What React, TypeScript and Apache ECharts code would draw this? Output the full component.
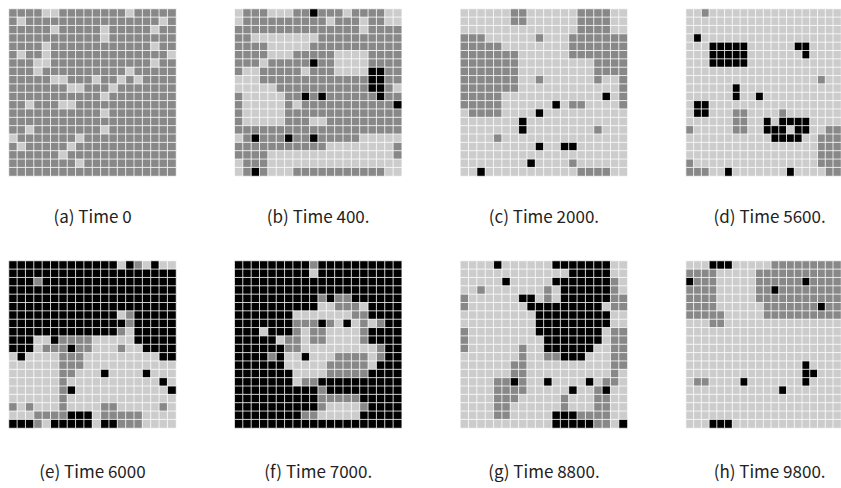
import React, { useEffect, useRef } from "react";
import * as echarts from "echarts";

// '.' = light, 'g' = gray, '#' = black ; rows from top, cols from left
const gridA = [
  "gggg..gggggggg.ggggg",
  "g.gggggggggggggggg.g",
  "ggggg.ggggg.ggggg.gg",
  "ggggggggggg.gggggggg",
  "gggg.gggggggggggg.gg",
  "g.gg.gggggggggggggg.",
  "ggg..gggggggggggg.gg",
  "ggg.gggggggggg.ggggg",
  "ggggg..ggg.gg.g.gggg",
  "ggggggg..ggg.ggggggg",
  "ggggggggggg.gggggggg",
  "gg.ggg..gggggggggggg",
  "ggggggggggg.gggggggg",
  "gggggggggggggggggggg",
  "gg.gggggggg.gggggggg",
  ".ggggggg.ggggggggggg",
  "g.ggggg.gggggggggggg",
  "gggggg.ggggggggggggg",
  "gggggggg.ggggggggggg",
  "gggggggggggggggggggg",
];
const gridB = [
  ".ggg...gg#ggg.gggg..",
  ".gggggggggg.ggg.gg..",
  "ggggggggggggggg.gggg",
  "gg........gggggggggg",
  "gggg.....ggggggggggg",
  "gggg...ggggg....gggg",
  "ggg.ggggg#gg....gggg",
  "g..ggggg.ggg....##gg",
  "...ggggggggggggg##gg",
  ".....ggggggggggg##g.",
  "g.....gg#g#gggggg#gg",
  "g.....g.ggggggggggg#",
  "g.....gggggggggggggg",
  "g.....ggg..ggggggggg",
  "gggggggggggggggggggg",
  ".g#ggg#gg#ggggg.....",
  "ggggggggggg........g",
  "gggg...............g",
  ".ggg................",
  ".g#g...ggggggggggg..",
];
const gridC = [
  "......gg......gggg..",
  "......gg......gggg..",
  "..............gggg..",
  "ggg......g...ggggggg",
  "ggggg........ggggggg",
  "ggggggg......ggggggg",
  "ggggggg.........gggg",
  "ggggggg.........gggg",
  "ggggggg..g......g..g",
  "ggggggg............g",
  "ggggg............#.g",
  "ggggg......#.gg....g",
  ".gggg....#..........",
  ".......#............",
  ".......#........g...",
  "....g...............",
  ".........#..##......",
  "....................",
  "........#....g......",
  "..#...........gggg..",
];
const gridD = [
  "..g.................",
  "....................",
  "....................",
  ".#..................",
  "...#####......##....",
  "...#####.......#....",
  "...#####............",
  "....................",
  ".................g..",
  "......#.............",
  "......#..#..........",
  ".##.................",
  ".##...gg....g.......",
  "......gg..#.####....",
  "g.....gg..###.##..gg",
  "...........####..ggg",
  ".................ggg",
  ".................ggg",
  "g................ggg",
  "ggg..#.......#....gg",
];
const gridE = [
  "#############.#g.#..",
  "####################",
  "###g################",
  "####################",
  "####################",
  "####################",
  "#############.g#####",
  "##############g#####",
  "#############g.#####",
  "###..#gggg.....#####",
  "###.ggg#gg...g..####",
  ".#....ggg.........##",
  "......ggg...........",
  "......gg...#....#...",
  "......g...........#.",
  "......g#...........#",
  "......g.............",
  "g.g...g....gg.....g.",
  "...gggg###.ggggg....",
  "###g.#####.##ggg....",
];
const gridF = [
  "#########g##########",
  "#########.##########",
  "####################",
  "####################",
  "##########g#gg######",
  "##########..ggg.####",
  "#######.......gg####",
  "#######ggg#g.#.g.g##",
  "###.###g.gg....g####",
  "#####.gg.gg....g####",
  "######gg.........g##",
  "####g#..#...gggg.g##",
  "######.....ggggg.###",
  "#######....ggggg####",
  "#######.gg##########",
  "##########g#########",
  "##########ggggg#####",
  "##########g....g####",
  "########gg.....#####",
  "####################",
];
const gridG = [
  "....#......#######..",
  ".............#####..",
  ".....#.....#######g.",
  "..g.......g.######g.",
  "g......##.g.######gg",
  "g.......#########.gg",
  ".........#########..",
  ".........#########..",
  "g........########.gg",
  "g.........#######.gg",
  "g......g..######..gg",
  ".......g..gg###...gg",
  "......gg..........gg",
  "......gg..........g.",
  "....gg#g..#....#.gg.",
  "....gggg.....#..g#..",
  "....ggg.....g...gg..",
  "....gg......g...gg..",
  "....gg.....###gggg..",
  "...........#####gg.#",
];
const gridH = [
  "...###.....ggggggggg",
  "gggg.....ggggggggggg",
  "#ggg.....gggggg#gggg",
  "gggg.....gg#gggggggg",
  "gggg.....ggggggggggg",
  "gggg......ggggggg#gg",
  "ggggg.....gggggggggg",
  "...gg...............",
  "....................",
  "....................",
  "....................",
  "....................",
  "...............#....",
  "...............##...",
  ".gg....#.......#....",
  "............#.......",
  "....................",
  "....................",
  "....................",
  "...###..............",
];

const panelGrids = [gridA, gridB, gridC, gridD, gridE, gridF, gridG, gridH];
const panelTitles = [
  "(a) Time 0",
  "(b) Time 400.",
  "(c) Time 2000.",
  "(d) Time 5600.",
  "(e) Time 6000",
  "(f) Time 7000.",
  "(g) Time 8800.",
  "(h) Time 9800.",
];
const levelColors = ["#cccccc", "#888888", "#000000"];
const cellLevels: Record<string, number> = { ".": 0, g: 1, "#": 2 };

export default function App() {
  const ref = useRef<HTMLDivElement>(null);
  useEffect(() => {
    const chart = echarts.init(ref.current!, null, { renderer: "svg" });
    const idx = Array.from({ length: 20 }, (_, i) => String(i));
    const grids: any[] = [];
    const xAxes: any[] = [];
    const yAxes: any[] = [];
    const series: any[] = [];
    const graphics: any[] = [];
    const size = 167;
    panelGrids.forEach((p, k) => {
      const col = k % 4;
      const row = Math.floor(k / 4);
      const left = 9 + col * 225.7;
      const top = row === 0 ? 9 : 261;
      grids.push({ left, top, width: size, height: size });
      xAxes.push({ type: "category", gridIndex: k, data: idx, show: false });
      yAxes.push({ type: "category", gridIndex: k, data: idx, show: false, inverse: true });
      const data: any[] = [];
      p.forEach((line, r) =>
        line.split("").forEach((ch, c) => data.push([c, r, cellLevels[ch]]))
      );
      series.push({
        type: "heatmap",
        xAxisIndex: k,
        yAxisIndex: k,
        data,
        itemStyle: { borderColor: "rgba(255,255,255,0.75)", borderWidth: 1 },
        emphasis: { disabled: true },
      });
      graphics.push({
        type: "text",
        x: left + size / 2,
        y: row === 0 ? 215 : 470,
        style: {
          text: panelTitles[k],
          textAlign: "center",
          textVerticalAlign: "middle",
          fontSize: 17,
          fontFamily: "Noto Sans CJK SC",
          fill: "#222222",
        },
      });
    });
    chart.setOption({
      animation: false,
      backgroundColor: "#ffffff",
      grid: grids,
      xAxis: xAxes,
      yAxis: yAxes,
      visualMap: {
        type: "piecewise",
        show: false,
        dimension: 2,
        seriesIndex: panelGrids.map((_, i) => i),
        pieces: levelColors.map((color, v) => ({ value: v, color })),
      },
      series,
      graphic: graphics,
    });
    return () => chart.dispose();
  }, []);
  return (
    <div
      ref={ref}
      style={{ position: "absolute", left: 0, top: 0, width: 841, height: 488 }}
    />
  );
}
